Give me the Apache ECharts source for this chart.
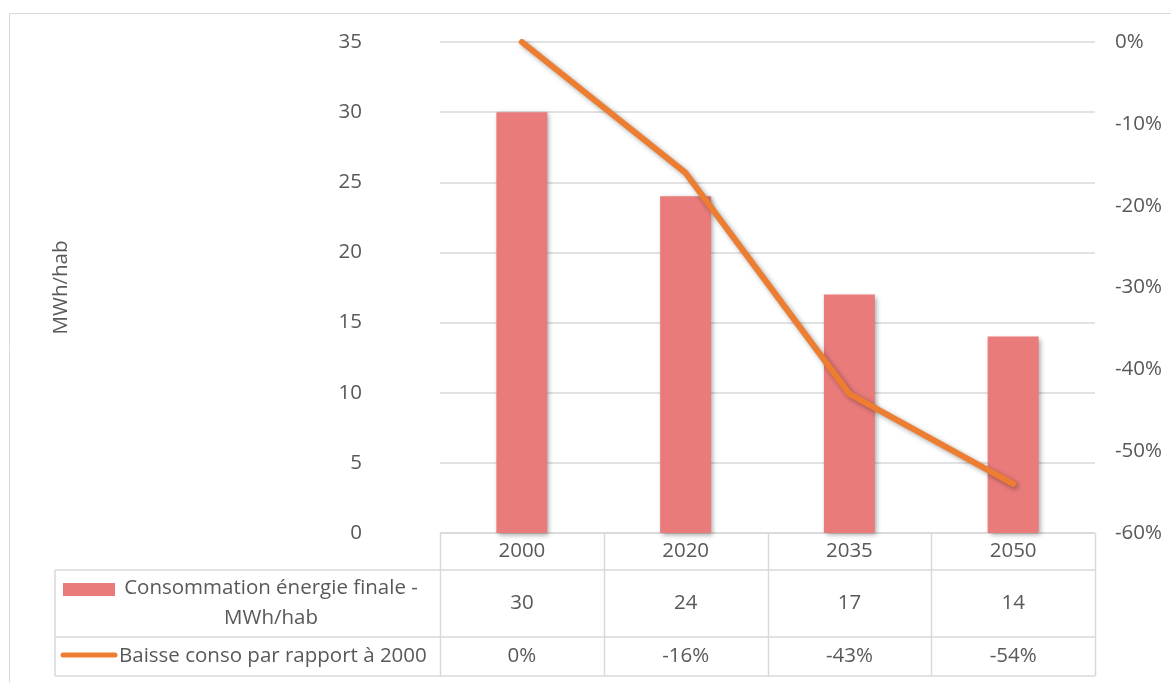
<!DOCTYPE html>
<html>
<head>
<meta charset="utf-8">
<script src="https://cdn.jsdelivr.net/npm/echarts@6/dist/echarts.min.js"></script>
<style>
html,body{margin:0;padding:0;background:#fff;}
#c{width:1171px;height:682px;}
</style>
</head>
<body>
<div id="c"></div>
<script>
var categories = ['2000', '2020', '2035', '2050'];
var consoValues = [30, 24, 17, 14];
var baisseValues = [0, -16, -43, -54];
var seriesNames = ['Consommation énergie finale - MWh/hab', 'Baisse conso par rapport à 2000'];
var yAxisName = 'MWh/hab';

var FONT = 'Open Sans';
var FS = 20.5;
var TXT = '#595959';
var GRIDC = '#d9d9d9';
var BAR = '#E97B7B';
var LINE = '#ED7D31';

var G = {left: 440, top: 42, right: 1095, bottom: 533};
var rows = [533, 570, 637, 676];
var tableLeft = 55;

var chart = echarts.init(document.getElementById('c'));

var graphics = [];
// outer chart border
graphics.push({type: 'rect', shape: {x: 9.5, y: 13.5, width: 1300, height: 800},
  style: {fill: 'none', stroke: GRIDC, lineWidth: 1}, silent: true});

var colW = (G.right - G.left) / categories.length;
function line(x1, y1, x2, y2) {
  graphics.push({type: 'line', shape: {x1: x1, y1: y1, x2: x2, y2: y2},
    style: {stroke: GRIDC, lineWidth: 1.5}, silent: true});
}
// horizontal table lines
line(G.left, rows[0], G.right, rows[0]);
for (var r = 1; r < rows.length; r++) line(tableLeft, rows[r], G.right, rows[r]);
// vertical table lines
for (var c = 0; c <= categories.length; c++) {
  var x = Math.round(G.left + c * colW) + 0.5;
  line(x, rows[0], x, rows[3]);
}
line(tableLeft, rows[1], tableLeft, rows[3]);

function txt(x, y, s, align) {
  graphics.push({type: 'text', x: x, y: y, silent: true,
    style: {text: s, fill: TXT, font: FS + 'px "' + FONT + '"', textAlign: align || 'center', textVerticalAlign: 'middle', lineHeight: 30}});
}
for (var i = 0; i < categories.length; i++) {
  var cx = G.left + (i + 0.5) * colW;
  txt(cx, (rows[0] + rows[1]) / 2, categories[i]);
  txt(cx, (rows[1] + rows[2]) / 2, String(consoValues[i]));
  txt(cx, (rows[2] + rows[3]) / 2, baisseValues[i] + '%');
}
// legend keys
graphics.push({type: 'rect', shape: {x: 63, y: 583, width: 52, height: 13}, style: {fill: BAR}, silent: true});
txt(271, 603, 'Consommation énergie finale -\nMWh/hab');
graphics.push({type: 'line', shape: {x1: 63, y1: 655, x2: 115, y2: 655},
  style: {stroke: LINE, lineWidth: 5, lineCap: 'round'}, silent: true});
txt(119, 656, seriesNames[1], 'left');

var option = {
  animation: false,
  backgroundColor: '#fff',
  textStyle: {fontFamily: FONT},
  grid: {left: G.left, top: G.top, width: G.right - G.left, height: G.bottom - G.top},
  xAxis: {
    type: 'category', data: categories,
    axisLine: {show: false}, axisTick: {show: false}, axisLabel: {show: false}
  },
  yAxis: [
    {
      type: 'value', min: 0, max: 35, interval: 5,
      name: yAxisName, nameLocation: 'middle', nameGap: 368,
      nameTextStyle: {color: TXT, fontSize: FS, fontFamily: FONT},
      axisLine: {show: false}, axisTick: {show: false},
      axisLabel: {color: TXT, fontSize: FS, fontFamily: FONT, margin: 78},
      splitLine: {lineStyle: {color: GRIDC, width: 1.5}}
    },
    {
      type: 'value', min: -60, max: 0, interval: 10, position: 'right',
      axisLine: {show: false}, axisTick: {show: false},
      axisLabel: {color: TXT, fontSize: FS, fontFamily: FONT, margin: 20, formatter: '{value}%', align: 'left'},
      splitLine: {show: false}
    }
  ],
  series: [
    {
      name: seriesNames[0], type: 'bar', data: consoValues, barWidth: 51, yAxisIndex: 0,
      itemStyle: {color: BAR, shadowColor: 'rgba(0,0,0,0.35)', shadowBlur: 5, shadowOffsetX: 2, shadowOffsetY: 2}
    },
    {
      name: seriesNames[1], type: 'line', data: baisseValues, yAxisIndex: 1,
      showSymbol: false, symbol: 'none',
      lineStyle: {color: LINE, width: 6, cap: 'round', join: 'round',
        shadowColor: 'rgba(0,0,0,0.35)', shadowBlur: 5, shadowOffsetX: 2, shadowOffsetY: 2},
      itemStyle: {color: LINE}
    }
  ],
  graphic: graphics
};
chart.setOption(option);
</script>
</body>
</html>
